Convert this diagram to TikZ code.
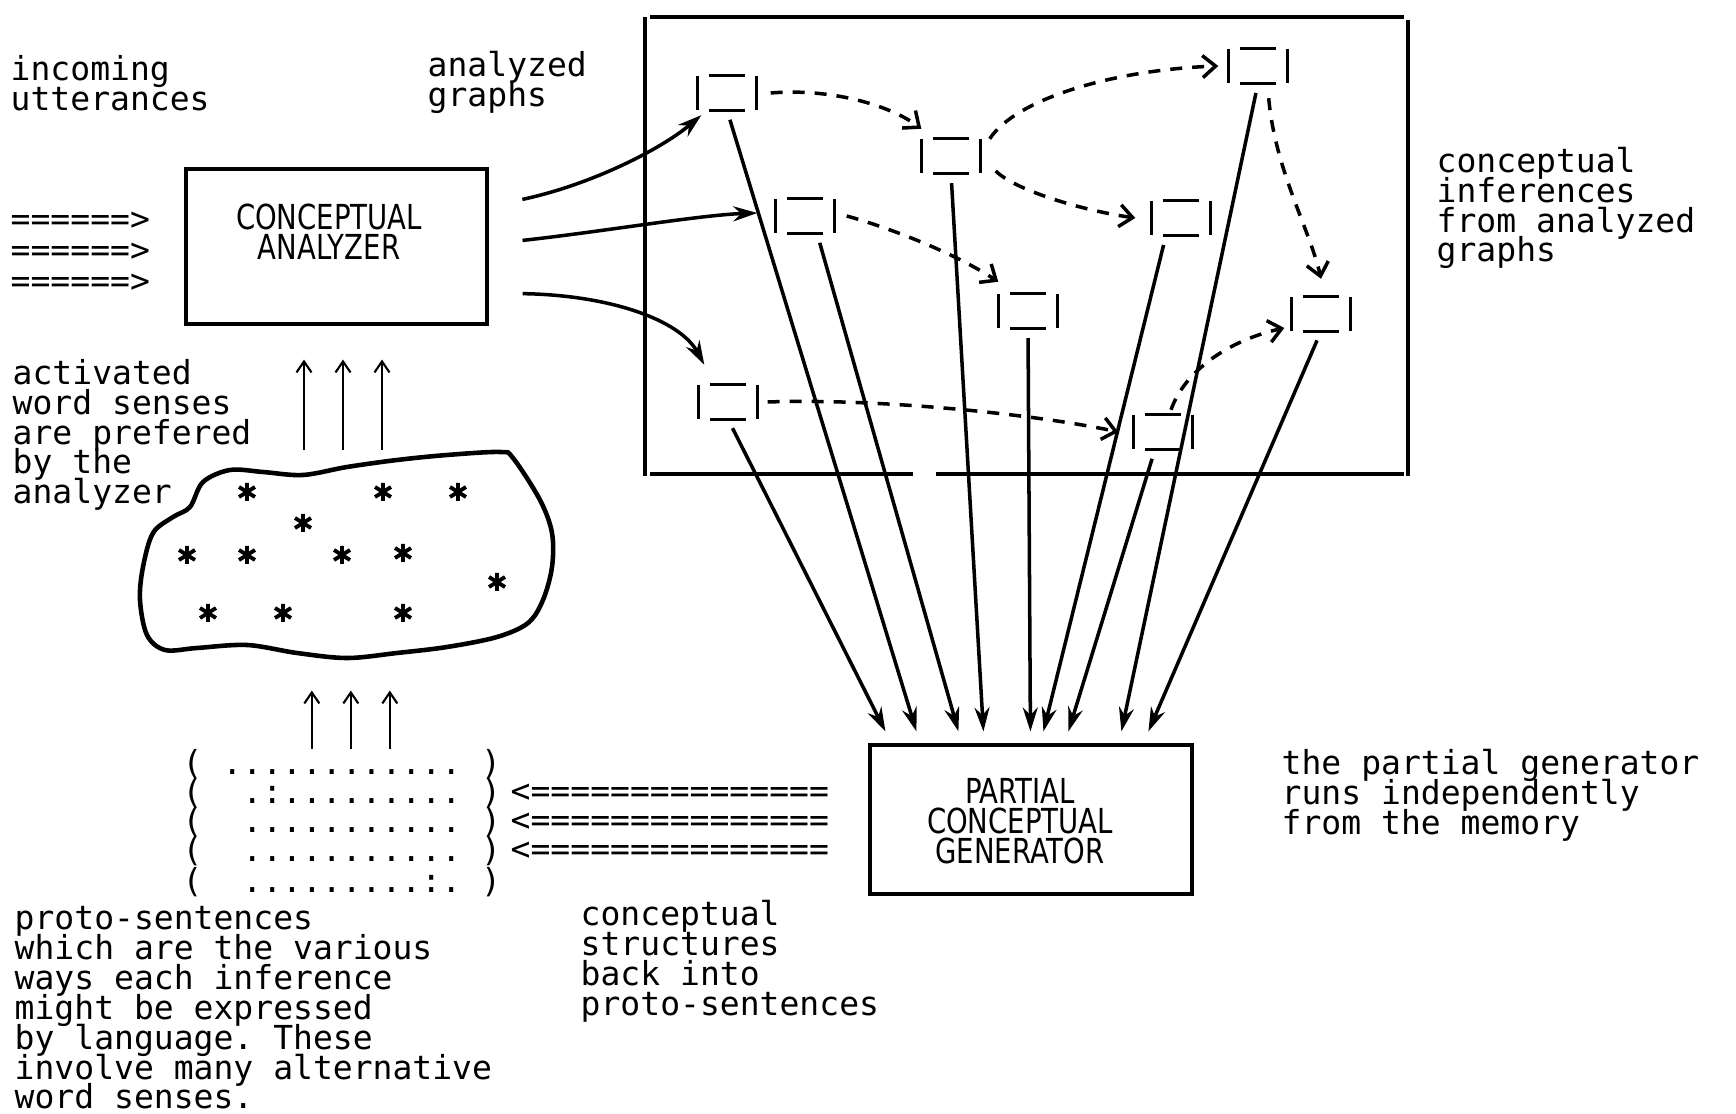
\documentclass[tikz,border=0pt]{standalone}
\usepackage{fontspec}
\setmonofont{DejaVu Sans Mono}
\newfontfamily\dobbetu[FakeStretch=0.8]{DejaVu Sans}
\usetikzlibrary{arrows.meta,positioning,calc}
\tikzset{
  szov/.style={font={\fontsize{9.4}{8.5}\selectfont\ttfamily\lineskiplimit=-100pt},inner sep=0pt,align=left},
  dobszov/.style={font={\fontsize{9.8}{8.5}\selectfont\dobbetu\lineskiplimit=-100pt},inner sep=0pt,align=center},
  dob/.style={draw,line width=0.9pt,inner sep=0pt},
  hal/.style={draw,line width=0.9pt},
  graf/.style={minimum width=5.8mm,minimum height=3.3mm,inner sep=0pt,
    append after command={
      (\tikzlastnode.north west) edge[hal] (\tikzlastnode.south west)
      (\tikzlastnode.north east) edge[hal] (\tikzlastnode.south east)
      ([xshift=1.2mm]\tikzlastnode.north west) edge[hal] ([xshift=-1.2mm]\tikzlastnode.north east)
      ([xshift=1.2mm]\tikzlastnode.south west) edge[hal] ([xshift=-1.2mm]\tikzlastnode.south east)}},
  nyil/.style={line width=1pt,shorten <=1mm,-{Stealth[length=2.4mm,width=1.5mm]}},
  szagg/.style={line width=1pt,dash pattern=on 1.2mm off 1mm,-{Straight Barb[length=1.3mm,width=2.2mm]}},
  fel/.style={line width=0.6pt,-{Straight Barb[length=1.1mm,width=1.5mm]}},
  csill/.pic={\draw[line width=1.1pt] (0,-9) -- (0,9) (-8,-5) -- (8,5) (-8,5) -- (8,-5);},
}

\begin{document}
\begin{tikzpicture}[x=0.1mm,y=-0.1mm]
  \useasboundingbox (0,0) rectangle (1736,1114);
  % feliratok
  \node[szov,anchor=west] (bejovo) at (10,83) {incoming\\utterances};
  \node[szov,anchor=west] (elemzett) at (427,82) {analyzed\\graphs};
  \node[szov,anchor=west] (be1) at (10,221) {======>};
  \node[szov,anchor=west] (be2) at (10,252) {======>};
  \node[szov,anchor=west] (be3) at (10,283) {======>};
  \node[szov,anchor=west] (aktiv) at (12,435)
    {activated\\word senses\\are prefered\\by the\\analyzer};
  \node[szov,anchor=west] (proto) at (14,1008)
    {proto-sentences\\which are the various\\ways each inference\\might be expressed\\by language. These\\involve many alternative\\word senses.};
  \node[szov,anchor=west] (vissza) at (580,961) {conceptual\\structures\\back into\\proto-sentences};
  \node[szov,anchor=west] (fuggetlen) at (1281,795) {the partial generator\\runs independently\\from the memory};
  \node[szov,anchor=west] (kovetk) at (1436,208) {conceptual\\inferences\\from analyzed\\graphs};

  % elemzo
  \node[dob,minimum width=30.1mm,minimum height=15.5mm] (ana) at (336.5,246.5) {};
  \node[dobszov] (anaszov) at (329,232) {CONCEPTUAL\\ANALYZER};

  % memoria keret
  \draw[hal] (650,17) -- (1404,17);
  \draw[hal] (645,17) -- (645,476);
  \draw[hal] (1408,20) -- (1408,476);
  \draw[hal] (650,474) -- (913,474) (936,474) -- (1404,474);

  % grafok
  \node[graf] (n1) at (727,93) {};
  \node[graf] (n2) at (951,156) {};
  \node[graf] (n3) at (1258,66) {};
  \node[graf] (n4) at (805,216) {};
  \node[graf] (n5) at (1181,218) {};
  \node[graf] (n6) at (1028,311) {};
  \node[graf] (n7) at (1321,314) {};
  \node[graf] (n8) at (728,402) {};
  \node[graf] (n9) at (1163,432) {};

  \draw[nyil] ([xshift=2.4mm,yshift=4.5mm]ana.east) .. controls (590,185) and (660,150) .. ([xshift=0.4mm,yshift=-0.5mm]n1.south west);
  \draw[nyil] ([xshift=2.4mm,yshift=0.5mm]ana.east) .. controls (600,232) and (700,215) .. ([xshift=-1.8mm,yshift=0.3mm]n4.west);
  \draw[nyil] ([xshift=2.4mm,yshift=-4.7mm]ana.east) .. controls (610,295) and (680,320) .. ([xshift=0.6mm,yshift=2mm]n8.north west);

  % kovetkeztetesek
  \draw[szagg] ([xshift=1.4mm]n1.east) .. controls (830,88) and (890,105) .. ([yshift=1mm]n2.north west);
  \draw[szagg] ([xshift=0.9mm]n2.north east) .. controls (1015,100) and (1110,70) .. ([xshift=-1mm]n3.west);
  \draw[szagg] ([xshift=1.5mm,yshift=-1.5mm]n2.east) .. controls (1015,190) and (1080,210) .. ([xshift=-1.6mm]n5.west);
  \draw[szagg] ([xshift=1.2mm]n4.east) .. controls (880,225) and (950,250) .. ([yshift=1.2mm]n6.north west);
  \draw[szagg] ([xshift=-1.9mm,yshift=-1.5mm]n3.south east) .. controls (1275,170) and (1310,230) .. ([yshift=1.8mm]n7.north);
  \draw[szagg] ([xshift=1mm]n8.east) .. controls (880,398) and (1040,415) .. ([xshift=-1.5mm]n9.west);
  \draw[szagg] ([xshift=0.8mm,yshift=0.5mm]n9.north) .. controls (1185,370) and (1230,340) .. ([xshift=-0.7mm,yshift=-1.4mm]n7.west);

  % generator
  \node[dob,minimum width=32.2mm,minimum height=14.9mm] (gen) at (1031,819.5) {};
  \node[dobszov] (genszov) at (1020,821) {PARTIAL\\CONCEPTUAL\\GENERATOR};

  \draw[nyil] (n8.south) -- ($(gen.north west)+(17,-12)$);
  \draw[nyil] (n1.south) -- ($(gen.north west)+(48,-12)$);
  \draw[nyil] ([xshift=1.2mm]n4.south) -- ($(gen.north west)+(90,-12)$);
  \draw[nyil] (n2.south) -- ($(gen.north west)+(115,-12)$);
  \draw[nyil] (n6.south) -- ($(gen.north west)+(162,-12)$);
  \draw[nyil] ([xshift=-1.5mm]n5.south) -- ($(gen.north west)+(175,-12)$);
  \draw[nyil] ([xshift=-0.8mm]n9.south) -- ($(gen.north west)+(200,-12)$);
  \draw[nyil] (n3.south) -- ($(gen.north west)+(253,-12)$);
  \draw[nyil] (n7.south) -- ($(gen.north west)+(280,-12)$);

  % szoerzekek
  \draw[line width=1.3pt] plot[smooth cycle,tension=0.55] coordinates {
    (190,507) (203,482) (230,470) (263,472) (303,475) (347,467) (397,460)
    (447,455) (500,452) (513,458) (540,500) (552,533) (552,567) (543,600)
    (528,623) (497,637) (447,647) (397,653) (347,658) (297,653) (247,645)
    (197,648) (165,650) (147,635) (140,600) (143,567) (153,533) (173,517)};
  \foreach \x/\y in {247/492,383/492,458/492,303/523,187/555,247/555,342/555,403/553,
                     497/582,208/613,283/613,403/613}
    \pic at (\x,\y) {csill};

  \draw[fel] ([xshift=-3.25mm,yshift=-12.4mm]ana.south) -- ([xshift=-3.25mm,yshift=-3.4mm]ana.south);
  \draw[fel] ([xshift=0.65mm,yshift=-12.4mm]ana.south) -- ([xshift=0.65mm,yshift=-3.4mm]ana.south);
  \draw[fel] ([xshift=4.55mm,yshift=-12.4mm]ana.south) -- ([xshift=4.55mm,yshift=-3.4mm]ana.south);

  % proto-mondatok
  \node[szov,anchor=west] (sor1) at (182,764) {(~............~)};
  \node[szov,anchor=west] (sor2) at (182,793) {(~~.:.........~)};
  \node[szov,anchor=west] (sor3) at (182,822) {(~~...........~)};
  \node[szov,anchor=west] (sor4) at (182,851) {(~~...........~)};
  \node[szov,anchor=west] (sor5) at (182,882) {(~~.........:.~)};

  \draw[fel] ([xshift=-3.0mm]sor1.north) -- ([xshift=-3.0mm,yshift=5.8mm]sor1.north);
  \draw[fel] ([xshift=0.9mm]sor1.north) -- ([xshift=0.9mm,yshift=5.8mm]sor1.north);
  \draw[fel] ([xshift=4.8mm]sor1.north) -- ([xshift=4.8mm,yshift=5.8mm]sor1.north);

  \node[szov,anchor=west] (vi1) at (510,793) {<===============};
  \node[szov,anchor=west] (vi2) at (510,822) {<===============};
  \node[szov,anchor=west] (vi3) at (510,851) {<===============};
\end{tikzpicture}
\end{document}
